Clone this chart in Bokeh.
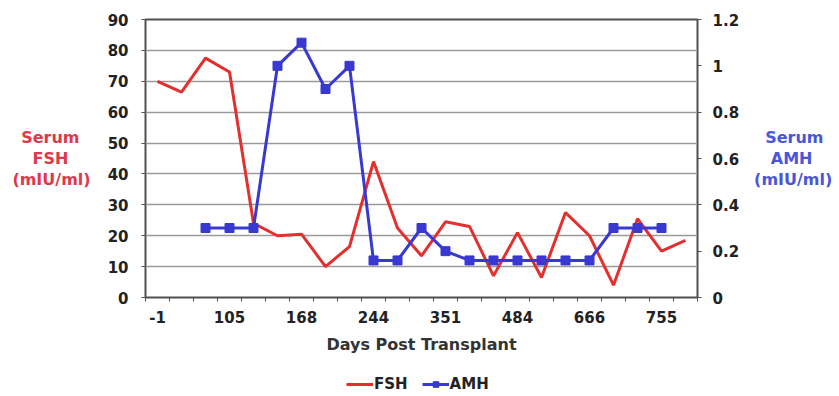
import numpy as np
from bokeh.plotting import figure
from bokeh.layouts import column
from bokeh.models import (Range1d, LinearAxis, FixedTicker, Legend,
                          LegendItem, NumeralTickFormatter, ColumnDataSource)
from bokeh.embed import file_html
from bokeh.resources import INLINE

nan = np.nan
NB = "\u00a0"

# Category labels (only every third label is printed on the axis)
day_labels = ["-1", "", "", "105", "", "", "168", "", "", "244", "", "",
              "351", "", "", "484", "", "", "666", "", "", "755", ""]
# Serum FSH (mIU/ml), left axis
fsh = [70, 66.5, 77.5, 73, 24, 20, 20.5, 10, 16.5, 44, 22.5, 13.5,
       24.5, 23, 7, 21, 6.5, 27.5, 20, 4, 25.5, 15, 18.5]
# Serum AMH (mIU/ml), right axis
amh = [nan, nan, 0.3, 0.3, 0.3, 1.0, 1.1, 0.9, 1.0, 0.16, 0.16, 0.3,
       0.2, 0.16, 0.16, 0.16, 0.16, 0.16, 0.16, 0.3, 0.3, 0.3, nan]
fsh_ticks = [0, 10, 20, 30, 40, 50, 60, 70, 80, 90]
amh_ticks = [0, 0.2, 0.4, 0.6, 0.8, 1.0, 1.2]

RED = "#E3302F"
BLUE = "#3838D2"
TXT = "#222222"
FONT = "DejaVu Sans"

idx = list(range(len(day_labels)))
src = ColumnDataSource(dict(x=idx, fsh=fsh, amh=amh))

p = figure(frame_width=552, frame_height=278, output_backend="svg",
           toolbar_location=None,
           x_range=Range1d(-0.5, len(day_labels) - 0.5),
           y_range=Range1d(0, 90),
           min_border_left=145, min_border_right=142,
           min_border_top=19, min_border_bottom=70)
p.extra_y_ranges = {"amh": Range1d(0, 1.2)}
p.outline_line_color = "#505050"
p.outline_line_width = 2
p.background_fill_color = "white"
p.border_fill_color = "white"

# x axis
tick_pos = [i for i, l in enumerate(day_labels) if l]
xa = p.xaxis[0]
xa.ticker = FixedTicker(ticks=tick_pos,
                        minor_ticks=[i - 0.5 for i in range(len(day_labels) + 1)])
xa.major_label_overrides = {i: day_labels[i] for i in tick_pos}
xa.major_tick_line_color = None
xa.major_tick_out = 0
xa.minor_tick_out = 4
xa.minor_tick_in = 0
xa.minor_tick_line_color = "#505050"
xa.axis_line_color = None
xa.major_label_standoff = 9
xa.axis_label = "Days Post Transplant"
xa.axis_label_standoff = 9
xa.axis_label_text_font = FONT
xa.axis_label_text_font_style = "bold"
xa.axis_label_text_font_size = "16px"
xa.axis_label_text_color = "#333333"

# left axis (lines padded with no-break spaces so they read centred)
ya = p.yaxis[0]
ya.ticker = FixedTicker(ticks=fsh_ticks)
ya.minor_tick_line_color = None
ya.major_tick_out = 4
ya.major_tick_in = 0
ya.major_tick_line_color = "#505050"
ya.axis_line_color = None
ya.major_label_standoff = 13
ya.axis_label = "Serum" + NB * 2 + "\nFSH" + NB * 4 + "\n(mIU/ml)"
ya.axis_label_orientation = "horizontal"
ya.axis_label_standoff = 14
ya.axis_label_text_color = "#E0384A"

# right axis
ra = LinearAxis(y_range_name="amh", ticker=FixedTicker(ticks=amh_ticks),
                formatter=NumeralTickFormatter(format="0.[0]"))
ra.minor_tick_line_color = None
ra.major_tick_out = 4
ra.major_tick_in = 0
ra.major_tick_line_color = "#505050"
ra.axis_line_color = None
ra.major_label_standoff = 11
ra.axis_label = NB * 2 + "Serum\n" + NB * 3 + "AMH\n(mIU/ml)"
ra.axis_label_orientation = "horizontal"
ra.axis_label_standoff = 12
ra.axis_label_text_color = "#4A55DA"
p.add_layout(ra, "right")

for ax in (xa, ya, ra):
    ax.major_label_text_font = FONT
    ax.major_label_text_font_style = "bold"
    ax.major_label_text_font_size = "15px"
    ax.major_label_text_color = TXT
for ax in (ya, ra):
    ax.axis_label_text_font = FONT
    ax.axis_label_text_font_style = "bold"
    ax.axis_label_text_font_size = "16px"
    ax.axis_label_text_line_height = 1.13

p.xgrid.grid_line_color = None
p.ygrid.grid_line_color = "#9a9a9a"
p.ygrid.grid_line_width = 1.6

p.line("x", "fsh", source=src, color=RED, line_width=3)
p.line("x", "amh", source=src, color=BLUE, line_width=3, y_range_name="amh")
p.scatter("x", "amh", source=src, marker="square", size=9,
          fill_color=BLUE, line_color=BLUE, y_range_name="amh")

# legend strip below the chart (its frame is aligned with the chart's frame)
lg = figure(width=839, height=30, output_backend="svg", toolbar_location=None,
            x_axis_location=None, y_axis_location=None,
            min_border=0, x_range=Range1d(0, 1), y_range=Range1d(0, 1))
lg.outline_line_color = None
lg.grid.grid_line_color = None
off = ColumnDataSource(dict(x=[-5], y=[-5]))
l1 = lg.line("x", "y", source=off, color=RED, line_width=3)
l2 = lg.line("x", "y", source=off, color=BLUE, line_width=3)
l3 = lg.scatter("x", "y", source=off, marker="square", size=9,
                fill_color=BLUE, line_color=BLUE)
legend = Legend(items=[LegendItem(label="FSH", renderers=[l1]),
                       LegendItem(label="AMH", renderers=[l2, l3])],
                location=(201, 4), orientation="horizontal",
                border_line_color=None, background_fill_alpha=0,
                padding=0, margin=0, spacing=14, label_standoff=1,
                glyph_width=27, glyph_height=14, label_height=14,
                label_text_font=FONT, label_text_font_style="bold",
                label_text_font_size="15px", label_text_color=TXT)
lg.add_layout(legend)

layout = column(p, lg, spacing=0)
open("out.html", "w").write(file_html(layout, INLINE))
